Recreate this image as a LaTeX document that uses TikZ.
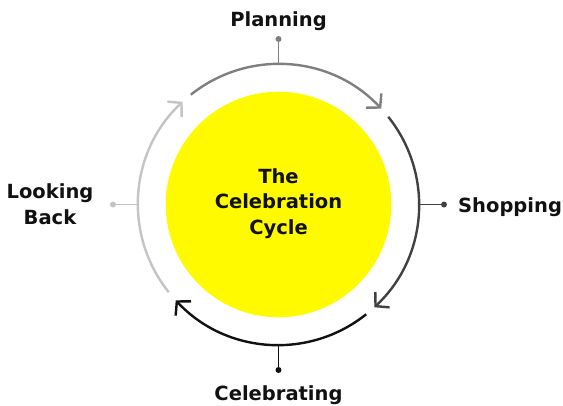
\documentclass[tikz,border=0pt]{standalone}
\usepackage{fontspec}
\setmainfont{DejaVu Sans}
\usetikzlibrary{arrows.meta}

\definecolor{planGray}{HTML}{7F7F7F}
\definecolor{shopGray}{HTML}{414141}
\definecolor{celebBlack}{HTML}{111111}
\definecolor{lookGray}{HTML}{C4C4C4}
\definecolor{partyYellow}{HTML}{FFFA00}

\tikzset{
  ring/.style={line width=2.4pt, -{Straight Barb[length=9.5pt,width=21pt]}},
  tick/.style={line width=1.5pt},
  tickdot/.style={circle, fill, inner sep=0pt, minimum size=6pt},
  stage/.style={font=\bfseries\fontsize{19.5}{25.5}\selectfont, text=celebBlack, inner sep=0pt, align=center},
}

\begin{document}
\begin{tikzpicture}[x=1pt,y=1pt]
  \useasboundingbox (-278.5,-200.5) rectangle (284.5,204.5);

  % centre disc
  \node[circle, fill=partyYellow, minimum size=225.6pt, inner sep=0pt] (hub) at (0,0) {};
  \node[stage] (title) at (0,1) {The\\Celebration\\Cycle};

  % the four arcs of the cycle
  \foreach \base/\col in {90/planGray, 0/shopGray, -90/celebBlack, -180/lookGray} {
    \draw[ring, \col] ({\base+38.6}:140.5) arc[start angle={\base+38.6}, end angle={\base-47}, radius=140.5];
  }

  % ticks with dots
  \foreach \ang/\col/\name in {90/planGray/plan, 0/shopGray/shop, -90/celebBlack/celeb, 180/lookGray/look} {
    \coordinate (\name Ring) at (\ang:140.5);
    \node[tickdot, \col] (\name Dot) at (\ang:165.5) {};
    \draw[tick, \col] (\name Ring) -- (\name Dot.center);
  }

  % stage labels
  \node[stage, anchor=base] (planning) at (0,177.8) {Planning};
  \node[stage, anchor=base west] (shopping) at (179.5,-8.2) {Shopping};
  \node[stage, anchor=base] (celebrating) at (0,-196) {Celebrating};
  \node[stage] (lookingBack) at (-228.5,0.5) {Looking\\Back};
\end{tikzpicture}
\end{document}
